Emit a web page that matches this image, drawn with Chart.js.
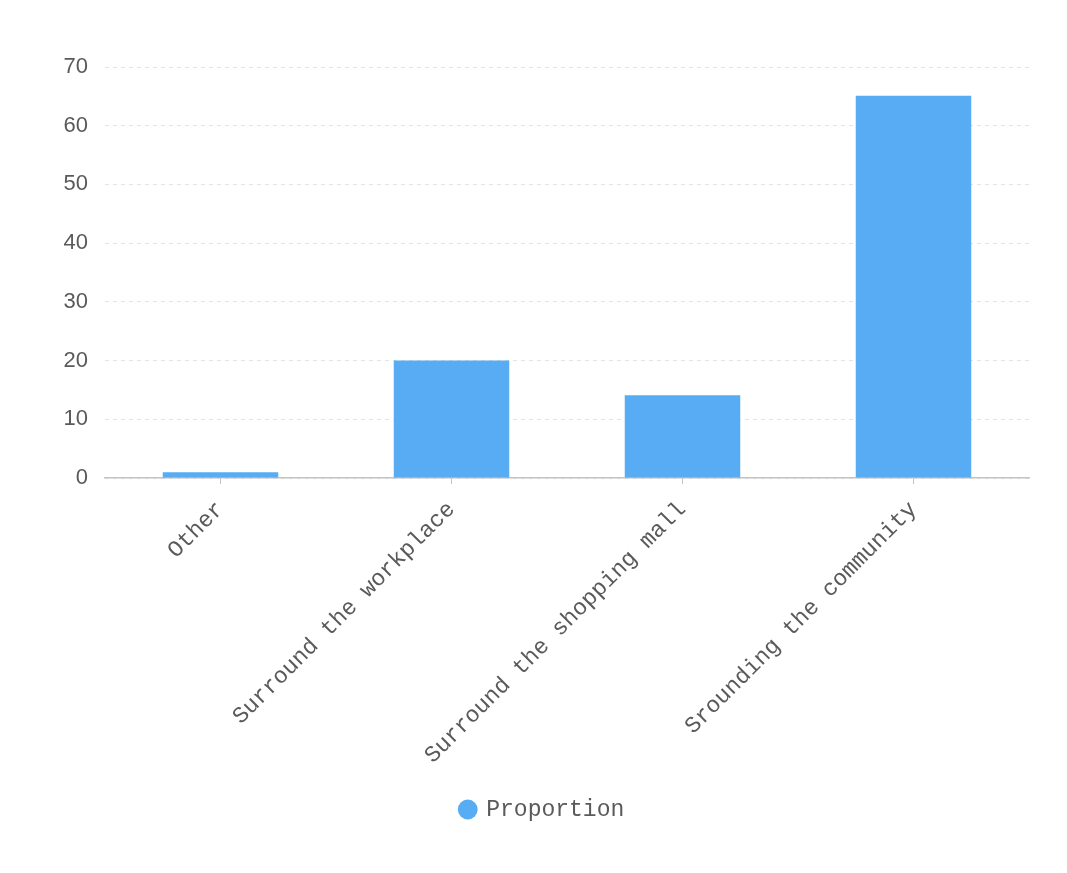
<!DOCTYPE html>
<html>
<head>
<meta charset="utf-8">
<script src="https://cdn.jsdelivr.net/npm/chart.js@4/dist/chart.umd.min.js"></script>
<style>
  html, body { margin: 0; padding: 0; background: #ffffff; }
  #wrap { width: 1067px; height: 873px; position: relative; }
</style>
</head>
<body>
<div id="wrap"><canvas id="chart"></canvas></div>
<script>
// Where people buy: share of respondents per location (%)
const categories = ['Other', 'Surround the workplace', 'Surround the shopping mall', 'Srounding the community'];
const proportion = [1.0, 20.0, 14.1, 65.1];
const seriesName = 'Proportion';
const yTicks = [0, 10, 20, 30, 40, 50, 60, 70];

const barColor = '#58acf3';
const textColor = '#5a5a5a';
const monoFont = '"Liberation Mono", "DejaVu Sans Mono", monospace';

new Chart(document.getElementById('chart'), {
  type: 'bar',
  data: {
    labels: categories,
    datasets: [{
      label: seriesName,
      data: proportion,
      backgroundColor: barColor,
      borderWidth: 0,
      barPercentage: 0.5,
      categoryPercentage: 1.0
    }]
  },
  options: {
    responsive: true,
    maintainAspectRatio: false,
    animation: false,
    layout: { padding: { top: 67, right: 38, bottom: 42, left: 56 } },
    plugins: {
      tooltip: { enabled: false },
      legend: {
        position: 'bottom',
        labels: {
          usePointStyle: true,
          pointStyle: 'circle',
          boxWidth: 14,
          boxHeight: 14,
          padding: 10,
          color: textColor,
          font: { family: monoFont, size: 23 }
        }
      }
    },
    scales: {
      x: {
        offset: true,
        grid: {
          offset: false,
          display: true,
          drawOnChartArea: false,
          drawTicks: true,
          tickLength: 6,
          color: '#c4c4c4'
        },
        border: { display: true, color: '#c4c4c4', width: 1.5 },
        ticks: {
          minRotation: 45,
          maxRotation: 45,
          padding: 12,
          color: textColor,
          font: { family: monoFont, size: 23 }
        },
        afterFit: (scale) => { scale.height = 310; }
      },
      y: {
        min: 0,
        max: 70,
        afterBuildTicks: (scale) => { scale.ticks = yTicks.map(v => ({ value: v })); },
        grid: {
          color: '#e4e4e4',
          lineWidth: 1,
          drawTicks: false
        },
        border: { display: false, dash: [4, 4] },
        ticks: {
          padding: 17,
          color: textColor,
          font: { family: '"Liberation Sans", Arial, sans-serif', size: 22 }
        },
        afterFit: (scale) => { scale.width = 49; }
      }
    }
  }
});
</script>
</body>
</html>
